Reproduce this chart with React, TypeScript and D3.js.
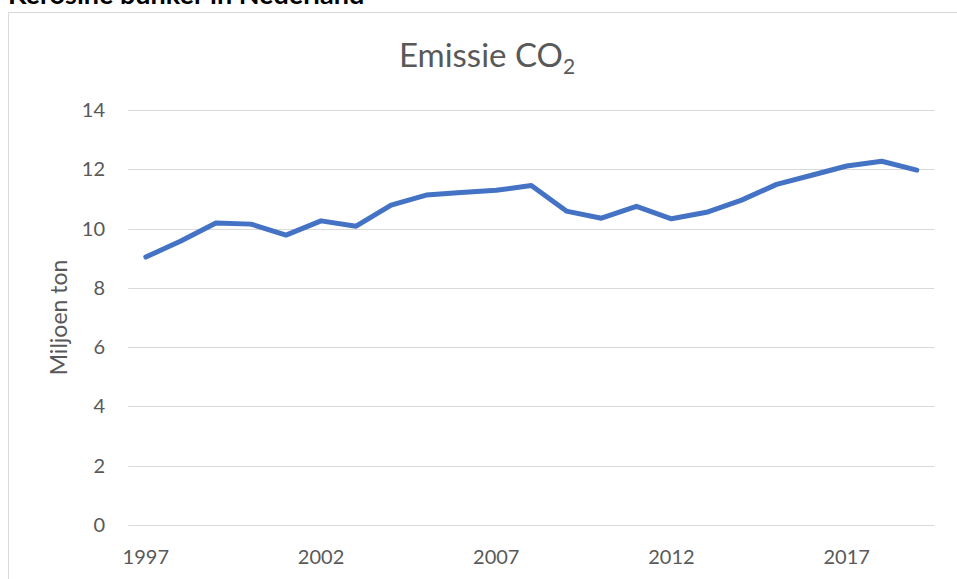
import React from "react";
import * as d3 from "d3";

const years: number[] = [1997,1998,1999,2000,2001,2002,2003,2004,2005,2006,2007,2008,2009,2010,2011,2012,2013,2014,2015,2016,2017,2018,2019];
const emissions: number[] = [9.04,9.58,10.19,10.15,9.78,10.26,10.08,10.79,11.13,11.22,11.29,11.45,10.59,10.35,10.75,10.33,10.55,10.96,11.49,11.80,12.11,12.27,11.97];
const yTicks: number[] = [0,2,4,6,8,10,12,14];
const xTickLabels: number[] = [1997,2002,2007,2012,2017];

const W = 957, H = 579;
const plotLeft = 128.3, plotRight = 934.3, plotTop = 110, plotBottom = 525;
const FONT = "Lato, 'Open Sans', sans-serif";
const TXT = "#595959";

export default function App() {
  const x = d3.scaleBand<number>().domain(years).range([plotLeft, plotRight]);
  const y = d3.scaleLinear().domain([0, 14]).range([plotBottom, plotTop]);
  const cx = (v: number) => (x(v) as number) + x.bandwidth() / 2;
  const line = d3.line<number>().x((_, i) => cx(years[i])).y((d) => y(d));
  return (
    <div style={{ position: "absolute", left: 0, top: 0 }}>
      <svg width={W} height={H} style={{ display: "block", background: "#fff" }}>
        <text x={8} y={4} fontFamily={FONT} fontWeight={700} fontSize={27} fill="#000">Kerosine bunker in Nederland</text>
        <line x1={8.5} y1={12.5} x2={W} y2={12.5} stroke="#D9D9D9" strokeWidth={1} />
        <line x1={8.5} y1={12.5} x2={8.5} y2={H} stroke="#D9D9D9" strokeWidth={1} />
        <text x={487} y={66.7} textAnchor="middle" fontFamily={FONT} fontSize={33} fill={TXT}>
          Emissie CO<tspan fontSize={21} dy={7}>2</tspan>
        </text>
        {yTicks.map((t) => (
          <g key={t}>
            <line x1={plotLeft} x2={plotRight} y1={Math.round(y(t)) + 0.5} y2={Math.round(y(t)) + 0.5} stroke="#D9D9D9" strokeWidth={1} />
            <text x={105} y={y(t)} dy="0.35em" textAnchor="end" fontFamily={FONT} fontSize={20} fill={TXT}>{t}</text>
          </g>
        ))}
        {xTickLabels.map((t) => (
          <text key={t} x={cx(t)} y={564} textAnchor="middle" fontFamily={FONT} fontSize={20} fill={TXT}>{t}</text>
        ))}
        <text transform={`translate(67,317.5) rotate(-90)`} textAnchor="middle" fontFamily={FONT} fontSize={23} fill={TXT}>Miljoen ton</text>
        <path d={line(emissions) || ""} fill="none" stroke="#4472C4" strokeWidth={5} strokeLinejoin="round" strokeLinecap="round" />
      </svg>
    </div>
  );
}
